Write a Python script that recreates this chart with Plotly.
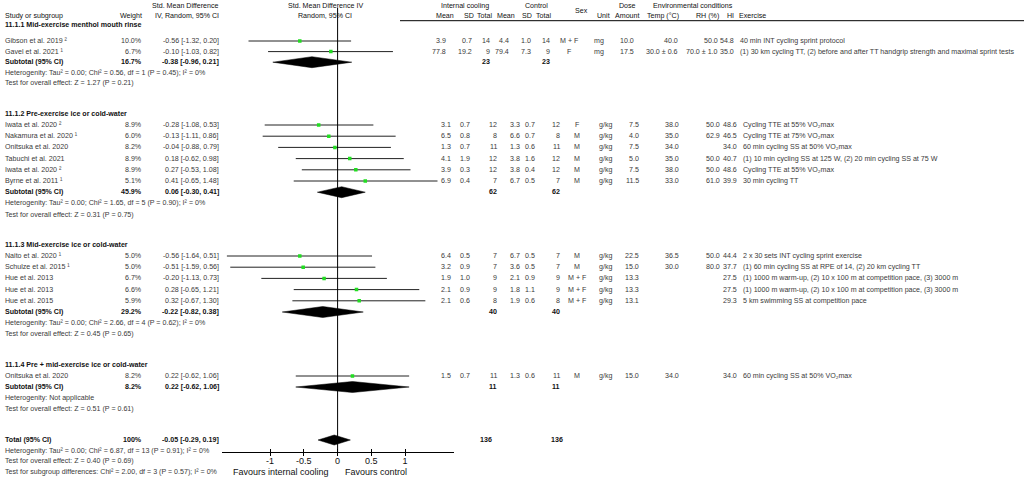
import plotly.graph_objects as go

# fonts
BODY = "Liberation Sans, Arial, sans-serif"
BODY_SIZE = 7.1
GREY = "#3a3a3a"
DARK = "#111111"

# ---- data ----
subgroups = ["11.1.1 Mid-exercise menthol mouth rinse",
             "11.1.2 Pre-exercise ice or cold-water",
             "11.1.3 Mid-exercise ice or cold-water",
             "11.1.4 Pre + mid-exercise ice or cold-water"]

study_group = [0, 0, 1, 1, 1, 1, 1, 1, 2, 2, 2, 2, 2, 3]
study = ["Gibson et al. 2019 ²", "Gavel et al. 2021 ¹",
         "Iwata et al. 2020 ²", "Nakamura et al. 2020 ¹",
         "Onitsuka et al. 2020", "Tabuchi et al. 2021",
         "Iwata et al. 2020 ²", "Byrne et al. 2011 ¹",
         "Naito et al. 2020 ¹", "Schulze et al. 2015 ¹",
         "Hue et al. 2013", "Hue et al. 2013", "Hue et al. 2015",
         "Onitsuka et al. 2020"]
weight = [10.0, 6.7, 8.9, 6.0, 8.2, 8.9, 8.9, 5.1, 5.0, 5.0, 6.7, 6.6, 5.9, 8.2]
smd = [-0.56, -0.10, -0.28, -0.13, -0.04, 0.18, 0.27, 0.41, -0.56, -0.51, -0.20, 0.28, 0.32, 0.22]
ci_low = [-1.32, -1.03, -1.08, -1.11, -0.88, -0.62, -0.53, -0.65, -1.64, -1.59, -1.13, -0.65, -0.67, -0.62]
ci_high = [0.20, 0.82, 0.53, 0.86, 0.79, 0.98, 1.08, 1.48, 0.51, 0.56, 0.73, 1.21, 1.30, 1.06]
ic_mean = [3.9, 77.8, 3.1, 6.5, 1.3, 4.1, 3.9, 6.9, 6.4, 3.2, 1.9, 2.1, 2.1, 1.5]
ic_sd = [0.7, 19.2, 0.7, 0.8, 0.7, 1.9, 0.3, 0.4, 0.5, 0.9, 1.0, 0.9, 0.6, 0.7]
ic_n = [14, 9, 12, 8, 11, 12, 12, 7, 7, 7, 9, 9, 8, 11]
ctl_mean = [4.4, 79.4, 3.3, 6.6, 1.3, 3.8, 3.8, 6.7, 6.7, 3.6, 2.1, 1.8, 1.9, 1.3]
ctl_sd = [1.0, 7.3, 0.7, 0.7, 0.6, 1.6, 0.4, 0.5, 0.5, 0.5, 0.9, 1.1, 0.6, 0.6]
ctl_n = [14, 9, 12, 8, 11, 12, 12, 7, 7, 7, 9, 9, 8, 11]
sex = ["M + F", "F", "F", "M", "M", "M", "M", "M", "M", "M", "M + F", "M + F", "M + F", "M"]
dose_unit = ["mg", "mg", "g/kg", "g/kg", "g/kg", "g/kg", "g/kg", "g/kg",
             "g/kg", "g/kg", "g/kg", "g/kg", "g/kg", "g/kg"]
dose_amount = [10.0, 17.5, 7.5, 4.0, 7.5, 5.0, 7.5, 11.5, 22.5, 15.0, 13.3, 13.3, 13.1, 15.0]
temp_c = ["40.0", "30.0 ± 0.6", "38.0", "35.0", "34.0", "35.0", "38.0", "33.0",
          "36.5", "30.0", "", "", "", "34.0"]
rh_pct = ["50.0", "70.0 ± 1.0", "50.0", "62.9", "", "50.0", "50.0", "61.0",
          "50.0", "80.0", "", "", "", ""]
heat_index = [54.8, 35.0, 48.6, 46.5, 34.0, 40.7, 48.6, 39.9, 44.4, 37.7, 27.5, 27.5, 29.3, 34.0]
exercise = ["40 min INT cycling sprint protocol",
            "(1) 30 km cycling TT, (2) before and after TT handgrip strength and maximal sprint tests",
            "Cycling TTE at 55% VO₂max",
            "Cycling TTE at 75% VO₂max",
            "60 min cycling SS at 50% VO₂max",
            "(1) 10 min cycling SS at 125 W, (2) 20 min cycling SS at 75 W",
            "Cycling TTE at 55% VO₂max",
            "30 min cycling TT",
            "2 x 30 sets INT cycling sprint exercise",
            "(1) 60 min cycling SS at RPE of 14, (2) 20 km cycling TT",
            "(1) 1000 m warm-up, (2) 10 x 100 m at competition pace, (3) 3000 m",
            "(1) 1000 m warm-up, (2) 10 x 100 m at competition pace, (3) 3000 m",
            "5 km swimming SS at competition pace",
            "60 min cycling SS at 50% VO₂max"]

sub_weight = [16.7, 45.9, 29.2, 8.2]
sub_smd = [-0.38, 0.06, -0.22, 0.22]
sub_low = [-0.96, -0.30, -0.82, -0.62]
sub_high = [0.21, 0.41, 0.38, 1.06]
sub_n_ic = [23, 62, 40, 11]
sub_n_ctl = [23, 62, 40, 11]
sub_het = ["Tau² = 0.00; Chi² = 0.56, df = 1 (P = 0.45); I² = 0%",
           "Tau² = 0.00; Chi² = 1.65, df = 5 (P = 0.90); I² = 0%",
           "Tau² = 0.00; Chi² = 2.66, df = 4 (P = 0.62); I² = 0%",
           "Not applicable"]
sub_z = ["Z = 1.27 (P = 0.21)", "Z = 0.31 (P = 0.75)", "Z = 0.45 (P = 0.65)", "Z = 0.51 (P = 0.61)"]

total_smd = -0.05
total_low = -0.29
total_high = 0.19
total_n_ic = 136
total_n_ctl = 136
total_het = "Tau² = 0.00; Chi² = 6.87, df = 13 (P = 0.91); I² = 0%"
total_z = "Z = 0.40 (P = 0.69)"
subgroup_diff = "Chi² = 2.00, df = 3 (P = 0.57); I² = 0%"

axis_ticks = [-1, -0.5, 0, 0.5, 1]
axis_ticktext = ["-1", "-0.5", "0", "0.5", "1"]

# ---- row layout (pixel rows, y axis runs 0 at top to 480 at bottom) ----
title_y = [25, 113.5, 245, 365]
first_y = [41, 125, 256, 376]
row_step = [10.6, 11.2, 11.2, 11.0]
total_y0 = 440
total_step = 10.6

# middle table columns for group 1 and for groups 2-4
cols_a = dict(icm=447, icsd=473, icn=491, cm=510, csd=532, cn=551, sex=569,
              unit=599, amt=635, temp=679, rh=719, hi=735, ex=739)
cols_b = dict(icm=452, icsd=471, icn=498, cm=521, csd=536, cn=561, sex=577,
              unit=605, amt=640, temp=680, rh=721, hi=738, ex=742)

ann = []


def txt(x, y, s, anchor="left", color=GREY, bold=False, size=BODY_SIZE):
    if bold:
        s = "<b>" + s + "</b>"
    ann.append(dict(x=x / 1024, xref="paper", y=y, yref="y", text=s,
                    showarrow=False, xanchor=anchor, yanchor="middle",
                    borderpad=0, font=dict(family=BODY, size=size, color=color)))


def ci_text(m, lo, hi):
    return "{:.2f} [{:.2f}, {:.2f}]".format(m, lo, hi)


# headers
txt(4, 16, "Study or subgroup", color=DARK)
txt(143, 16, "Weight", "right", color=DARK)
txt(220, 6, "Std. Mean Difference", "right", color=DARK)
txt(220, 16, "IV, Random, 95% CI", "right", color=DARK)
txt(325, 6, "Std. Mean Difference IV", "center", color=DARK)
txt(325, 16, "Random, 95% CI", "center", color=DARK)
txt(464.7, 6, "Internal cooling", "center", color=DARK)
txt(536, 6, "Control", "center", color=DARK)
txt(581, 11, "Sex", "center", color=DARK)
txt(627.5, 6, "Dose", "center", color=DARK)
txt(693, 6, "Environmental conditions", "center", color=DARK)
for lab, xc in [("Mean", 445), ("SD", 469), ("Total", 484.5), ("Mean", 506),
                ("SD", 527), ("Total", 543.7), ("Unit", 603), ("Amount", 627),
                ("Temp (°C)", 663), ("RH (%)", 707), ("HI", 730)]:
    txt(xc, 16, lab, "center", color=DARK)
txt(738, 16, "Exercise", color=DARK)

# study rows
study_y = []
sub_rows = []
for g in range(len(subgroups)):
    txt(4, title_y[g], subgroups[g], color=DARK, bold=True)
    idx = [i for i in range(len(study)) if study_group[i] == g]
    c = cols_a if g == 0 else cols_b
    for k, i in enumerate(idx):
        y = first_y[g] + k * row_step[g]
        study_y.append(y)
        txt(4, y, study[i])
        txt(143, y, "{:.1f}%".format(weight[i]), "right")
        txt(220, y, ci_text(smd[i], ci_low[i], ci_high[i]), "right")
        txt(c["icm"], y, "{:.1f}".format(ic_mean[i]), "right")
        txt(c["icsd"], y, "{:.1f}".format(ic_sd[i]), "right")
        txt(c["icn"], y, str(ic_n[i]), "right")
        txt(c["cm"], y, "{:.1f}".format(ctl_mean[i]), "right")
        txt(c["csd"], y, "{:.1f}".format(ctl_sd[i]), "right")
        txt(c["cn"], y, str(ctl_n[i]), "right")
        txt(c["sex"], y, sex[i], "center")
        txt(c["unit"], y, dose_unit[i], "center")
        txt(c["amt"], y, "{:.1f}".format(dose_amount[i]), "right")
        if temp_c[i]:
            txt(c["temp"], y, temp_c[i], "right")
        if rh_pct[i]:
            txt(c["rh"], y, rh_pct[i], "right")
        txt(c["hi"], y, "{:.1f}".format(heat_index[i]), "right")
        txt(c["ex"], y, exercise[i])
    ys = first_y[g] + len(idx) * row_step[g]
    sub_rows.append(ys)
    txt(4, ys, "Subtotal (95% CI)", color=DARK, bold=True)
    txt(143, ys, "{:.1f}%".format(sub_weight[g]), "right", color=DARK, bold=True)
    txt(220, ys, ci_text(sub_smd[g], sub_low[g], sub_high[g]), "right", color=DARK, bold=True)
    txt(c["icn"], ys, str(sub_n_ic[g]), "right", color=DARK, bold=True)
    txt(c["cn"], ys, str(sub_n_ctl[g]), "right", color=DARK, bold=True)
    txt(4, ys + row_step[g], "Heterogenity: " + sub_het[g])
    txt(4, ys + 2 * row_step[g], "Test for overall effect: " + sub_z[g])

# overall
txt(4, total_y0, "Total (95% CI)", color=DARK, bold=True)
txt(143, total_y0, "100%", "right", color=DARK, bold=True)
txt(220, total_y0, ci_text(total_smd, total_low, total_high), "right", color=DARK, bold=True)
txt(493, total_y0, str(total_n_ic), "right", color=DARK, bold=True)
txt(564, total_y0, str(total_n_ctl), "right", color=DARK, bold=True)
txt(4, total_y0 + total_step, "Heterogenity: " + total_het)
txt(4, total_y0 + 2 * total_step, "Test for overall effect: " + total_z)
txt(4, total_y0 + 3 * total_step, "Test for subgroup differences: " + subgroup_diff)

# favours labels, placed on the effect axis around zero
for label, anchor, shift in [("Favours internal cooling", "right", -7),
                             ("Favours control", "left", 5)]:
    ann.append(dict(x=0, xref="x2", y=471.7, yref="y", text=label, showarrow=False,
                    xanchor=anchor, yanchor="middle", xshift=shift,
                    font=dict(family=BODY, size=9, color="#111")))

# ---- forest marks ----
fig = go.Figure()

line_x, line_y = [], []
for i, y in enumerate(study_y):
    line_x += [ci_low[i], ci_high[i], None]
    line_y += [y, y, None]
fig.add_trace(go.Scatter(x=line_x, y=line_y, mode="lines", xaxis="x2", yaxis="y",
                         line=dict(color="#222", width=1), hoverinfo="skip"))

fig.add_trace(go.Scatter(x=smd, y=study_y, mode="markers", xaxis="x2", yaxis="y",
                         marker=dict(symbol="square", size=3.5, color="#22dd22"),
                         hovertext=study))

dh = 5.5
dx, dy = [], []
for g in range(len(subgroups)):
    ys = sub_rows[g]
    dx += [sub_low[g], sub_smd[g], sub_high[g], sub_smd[g], sub_low[g], None]
    dy += [ys, ys - dh, ys, ys + dh, ys, None]
dx += [total_low, total_smd, total_high, total_smd, total_low]
dy += [total_y0, total_y0 - 5, total_y0, total_y0 + 5, total_y0]
fig.add_trace(go.Scatter(x=dx, y=dy, mode="lines", fill="toself", fillcolor="black",
                         xaxis="x2", yaxis="y", line=dict(color="black", width=0.5),
                         hoverinfo="skip"))

# empty trace so the second (downward) tick axis gets drawn
fig.add_trace(go.Scatter(x=[], y=[], xaxis="x3", yaxis="y", hoverinfo="skip"))

axis_y = 452.3
fig.add_shape(type="line", xref="x2", yref="y", x0=0, x1=0, y0=8, y1=axis_y,
              line=dict(color="black", width=1))
fig.add_shape(type="line", xref="paper", yref="y", x0=400 / 1024, x1=1, y0=20.7, y1=20.7,
              line=dict(color="black", width=1))

dom = [221.5 / 1024, 453.7 / 1024]
pos = (480 - axis_y) / 480
fig.update_layout(
    width=1024, height=480,
    margin=dict(l=0, r=0, t=0, b=0),
    paper_bgcolor="white", plot_bgcolor="rgba(0,0,0,0)",
    showlegend=False,
    annotations=ann,
    xaxis=dict(visible=False, range=[0, 1024], domain=[0, 1]),
    xaxis2=dict(domain=dom, range=[-1.72, 1.72], anchor="free", position=pos,
                showline=True, linecolor="black", linewidth=1,
                ticks="inside", ticklen=3, tickcolor="black", tickwidth=1,
                tickvals=axis_ticks, ticktext=axis_ticktext,
                tickfont=dict(family=BODY, size=9, color="#111"),
                showgrid=False, zeroline=False, fixedrange=True),
    xaxis3=dict(domain=dom, range=[-1.72, 1.72], anchor="free", position=pos,
                overlaying="x2", showline=False, ticks="outside", ticklen=3,
                tickcolor="black", tickwidth=1, tickvals=axis_ticks,
                showticklabels=False, showgrid=False, zeroline=False),
    yaxis=dict(visible=False, range=[480, 0], domain=[0, 1], fixedrange=True),
)

# page body has a default 8px margin; drop it so the figure sits at the corner
fig.write_html("out.html", config={"displayModeBar": False},
               post_script="document.body.style.margin='0';")
